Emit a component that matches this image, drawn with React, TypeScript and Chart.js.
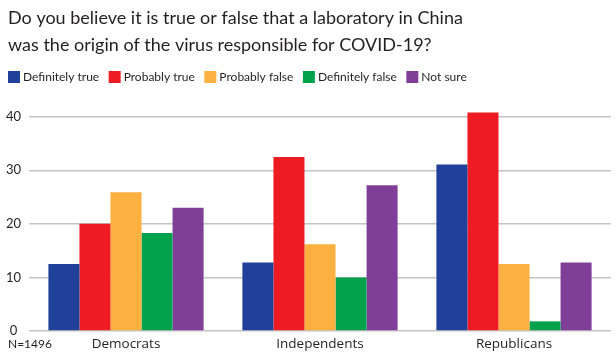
import React, { useEffect, useRef } from "react";
import { Chart, registerables } from "chart.js";

Chart.register(...registerables);

const categories = ["Democrats", "Independents", "Republicans"];
const seriesNames = ["Definitely true", "Probably true", "Probably false", "Definitely false", "Not sure"];
const definitelyTrue = [12.5, 12.8, 31.1];
const probablyTrue = [20.0, 32.5, 40.8];
const probablyFalse = [25.9, 16.2, 12.5];
const definitelyFalse = [18.3, 10.0, 1.8];
const notSure = [23.0, 27.2, 12.8];
const yTickValues = [0, 10, 20, 30, 40];
const titleLines = [
  "Do you believe it is true or false that a laboratory in China",
  "was the origin of the virus responsible for COVID-19?",
];
const footnote = "N=1496";

const colors = ["#21409a", "#ed1c24", "#fbb040", "#00a14b", "#7f3f98"];
const LATO = "Lato, 'Open Sans', sans-serif";
const OPEN = "'Open Sans', Lato, sans-serif";
const TEXT = "#231f20";

const textPlugin = {
  id: "extraText",
  afterDraw(chart: any) {
    const ctx = chart.ctx;
    ctx.save();
    ctx.fillStyle = TEXT;
    ctx.textAlign = "left";
    // title
    ctx.textBaseline = "alphabetic";
    ctx.font = `18px ${LATO}`;
    ctx.fillText(titleLines[0], 8, 24);
    ctx.fillText(titleLines[1], 8, 51);
    // legend
    ctx.font = `12px ${LATO}`;
    ctx.textBaseline = "middle";
    let x = 8;
    chart.data.datasets.forEach((ds: any) => {
      ctx.fillStyle = ds.backgroundColor;
      ctx.fillRect(x, 71, 12, 12);
      ctx.fillStyle = TEXT;
      ctx.fillText(ds.label, x + 15, 77.5);
      x += 15 + ctx.measureText(ds.label).width + 9.5;
    });
    // footnote
    ctx.font = `12px ${LATO}`;
    ctx.fillText(footnote, 8, 344);
    ctx.restore();
  },
};

export default function App() {
  const ref = useRef<HTMLCanvasElement | null>(null);
  useEffect(() => {
    document.body.style.margin = "0";
    const seriesData = [definitelyTrue, probablyTrue, probablyFalse, definitelyFalse, notSure];
    const chart = new Chart(ref.current as HTMLCanvasElement, {
      type: "bar",
      data: {
        labels: categories,
        datasets: seriesNames.map((name, i) => ({
          label: name,
          data: seriesData[i],
          backgroundColor: colors[i],
          borderWidth: 0,
          categoryPercentage: 0.8,
          barPercentage: 1.0,
        })),
      },
      options: {
        responsive: false,
        animation: false,
        layout: { padding: { top: 106, left: 0, right: 5, bottom: 0 } },
        plugins: {
          title: { display: false },
          tooltip: { enabled: false },
          legend: { display: false },
        },
        scales: {
          x: {
            grid: { display: false, drawTicks: false },
            border: { display: false },
            afterFit: (scale: any) => {
              scale.height = 24;
            },
            ticks: { color: TEXT, padding: 5, font: { family: OPEN, size: 13.5 } },
          },
          y: {
            min: 0,
            max: 42,
            afterBuildTicks: (scale: any) => {
              scale.ticks = yTickValues.map((v) => ({ value: v }));
            },
            afterFit: (scale: any) => {
              scale.width = 29;
            },
            border: { display: false },
            grid: { color: "#c4c4c4", lineWidth: 1.5, drawTicks: false },
            ticks: {
              color: TEXT,
              padding: 8,
              crossAlign: "center",
              font: { family: LATO, size: 13 },
            },
          },
        },
      },
      plugins: [textPlugin],
    });
    return () => chart.destroy();
  }, []);
  return (
    <div style={{ position: "absolute", left: 0, top: 0, width: 616, height: 355 }}>
      <canvas ref={ref} width={616} height={355} />
    </div>
  );
}
